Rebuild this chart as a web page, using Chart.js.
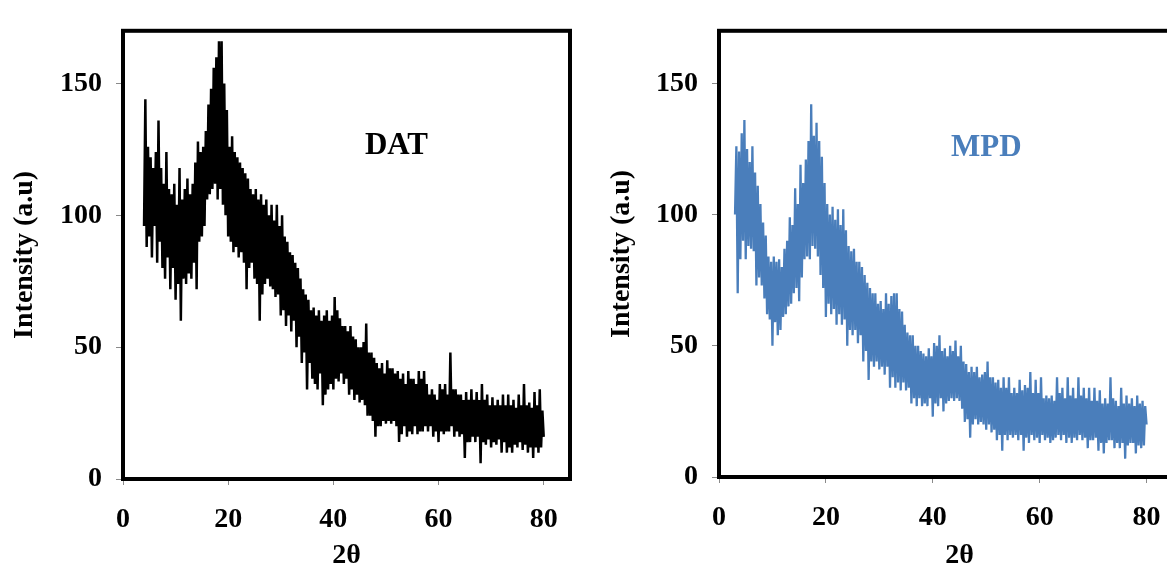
<!DOCTYPE html>
<html>
<head>
<meta charset="utf-8">
<script src="https://cdn.jsdelivr.net/npm/chart.js@4.4.1/dist/chart.umd.min.js"></script>
<style>
  body { margin: 0; background: #fff; }
  #wrap { position: relative; width: 1167px; height: 570px; overflow: hidden; background: #fff; }
  canvas { position: absolute; top: 0; }
</style>
</head>
<body>
<div id="wrap">
  <canvas id="chartDat" width="590" height="570" style="left:0"></canvas>
  <canvas id="chartMpd" width="620" height="570" style="left:590px"></canvas>
</div>
<script>
// 2theta sampling (deg)
const twoThetaStep = 0.25;
const datStart = 4;
const mpdStart = 3;

const xTicks = [0, 20, 40, 60, 80];
const yTicks = [0, 50, 100, 150];

// DAT intensity (4 -> 80 deg)
const datIntensity = [
  96,144,88,126,  92,122,84,118,  96,124,82,136,  90,118,80,112,  76,124,84,110,
  72,108,80,112,  68,104,74,118,  60,106,76,110,  74,114,78,108,  76,112,82,120,
  72,128,90,124,  92,126,96,132,  106,142,108,148, 110,156,112,160, 106,166,110,166,
  104,150,100,140, 92,126,90,130,  86,124,88,122,  84,120,86,118,  82,116,72,114,
  80,110,82,108,  76,110,74,106,  60,108,70,104,  74,106,76,100,  73,104,72,98,
  69,104,70,96,   62,100,64,92,   58,90,62,86,    56,85,60,82,    50,80,54,76,
  44,72,48,70,    34,68,44,64,    38,65,36,62,    34,64,40,60,    28,62,32,64,
  34,60,36,62,    34,69,38,64,    37,61,40,58,    36,58,38,56,    32,58,34,54,
  30,53,32,50,    29,50,30,52,    28,59,24,48,    24,48,22,46,    16,44,20,42,
  20,44,22,40,    21,45,22,42,    21,42,22,40,    20,41,14,38,    17,40,20,36,
  16,41,18,38,    17,38,20,36,    17,41,18,38,    18,41,20,36,    18,32,20,34,
  16,32,18,30,    14,36,18,34,    17,36,18,32,    18,48,20,34,    16,34,18,32,
  16,32,17,30,    8,33,14,30,     14,34,16,30,    14,33,16,30,    6,36,14,30,
  13,32,15,28,    12,31,14,28,    13,30,15,28,    10,32,14,28,    10,32,12,28,
  10,30,13,27,    12,32,14,28,    11,36,13,28,    10,29,12,27,    8,33,12,28,
  10,34,12,26,    16
];

// MPD intensity (3 -> 80 deg)
const mpdIntensity = [
  100,126,70,124, 83,131,90,136,  83,125,88,120,  87,126,86,116,  73,111,76,104,
  73,97,68,92,    62,84,60,82,    50,84,59,82,    54,83,56,80,    61,87,62,90,
  65,99,66,96,    70,110,72,104,  67,119,76,112,  83,121,84,128,  83,142,88,130,
  87,135,84,128,  77,122,72,112,  61,104,66,100,  62,103,64,98,   58,102,62,96,
  58,102,60,94,   50,88,56,86,    54,87,56,82,    51,82,54,80,    44,77,48,74,
  37,72,44,70,    42,70,44,66,    41,67,42,64,    39,70,42,66,    34,69,38,70,
  34,70,36,64,    33,63,36,58,    33,55,34,54,    28,54,30,50,    27,50,30,48,
  27,47,28,46,    27,49,30,46,    23,51,28,50,    27,54,30,48,    25,49,28,46,
  29,50,30,48,    29,52,30,46,    29,50,26,44,    21,43,22,40,    15,42,20,40,
  22,42,20,38,    21,39,20,40,    18,44,20,38,    17,38,18,36,    14,37,16,34,
  10,38,16,34,    14,38,16,32,    15,34,16,32,    14,37,16,33,    10,35,15,34,
  13,40,16,32,    14,37,15,32,    13,38,16,30,    14,31,15,30,    13,31,14,29,
  15,38,16,32,    14,34,16,30,    13,38,15,31,    13,34,15,30,    14,38,16,31,
  14,34,15,30,    11,34,14,29,    14,34,15,29,    10,33,13,28,    9,30,13,28,
  14,38,14,30,    11,29,13,27,    11,34,13,28,    7,31,12,28,     13,30,13,27,
  9,31,12,28,     11,29,12,27,    20
];

const serif = "'Liberation Serif', 'Times New Roman', serif";

// marco del area de trazado + etiqueta de la muestra
const framePlugin = {
  id: 'frame',
  afterDatasetsDraw(chart, args, opts) {
    const { ctx, chartArea: a, scales } = chart;
    ctx.save();
    ctx.lineWidth = opts.width;
    ctx.strokeStyle = '#000';
    ctx.strokeRect(a.left, a.top, a.right - a.left, a.bottom - a.top);
    ctx.font = 'bold 31px ' + serif;
    ctx.fillStyle = opts.color;
    ctx.textAlign = 'center';
    ctx.textBaseline = 'middle';
    ctx.fillText(opts.label, scales.x.getPixelForValue(opts.at[0]), scales.y.getPixelForValue(opts.at[1]));
    ctx.restore();
  }
};

function toPoints(start, values) {
  return values.map((v, i) => ({ x: start + i * twoThetaStep, y: v }));
}

function makeChart(id, start, values, color, p) {
  return new Chart(document.getElementById(id), {
    type: 'line',
    data: {
      datasets: [{
        data: toPoints(start, values),
        borderColor: color,
        borderWidth: p.lineWidth,
        borderJoinStyle: 'bevel',
        pointRadius: 0,
        tension: 0,
        fill: false
      }]
    },
    options: {
      responsive: false,
      animation: false,
      events: [],
      layout: { padding: { top: p.top, right: p.right, left: 0, bottom: 0 } },
      plugins: {
        legend: { display: false },
        tooltip: { enabled: false },
        frame: { width: 4, label: p.label, color: color, at: p.labelAt }
      },
      scales: {
        x: {
          type: 'linear',
          min: 0,
          max: p.xMax,
          afterFit: s => { s.height = p.xHeight; },
          afterBuildTicks: s => { s.ticks = xTicks.map(v => ({ value: v })); },
          grid: { drawOnChartArea: false, drawTicks: true, tickLength: 6, tickColor: '#8a8a8a' },
          border: { display: false },
          ticks: { padding: 18, color: '#000', font: { family: serif, size: 28, weight: 'bold' } },
          title: { display: true, text: '2θ', color: '#000', padding: { top: 0, bottom: 0 },
                   font: { family: serif, size: 28, weight: 'bold', lineHeight: 1 } }
        },
        y: {
          min: 0,
          max: 170,
          afterFit: s => { s.width = p.yWidth; },
          afterBuildTicks: s => { s.ticks = yTicks.map(v => ({ value: v })); },
          grid: { drawOnChartArea: false, drawTicks: true, tickLength: 7, tickColor: '#8a8a8a' },
          border: { display: false },
          ticks: { padding: 14, color: '#000', font: { family: serif, size: 28, weight: 'bold' } },
          title: { display: true, text: 'Intensity (a.u)', color: '#000', padding: { top: p.yTitlePad, bottom: 0 },
                   font: { family: serif, size: 28, weight: 'bold', lineHeight: 1.1 } }
        }
      }
    },
    plugins: [framePlugin]
  });
}

makeChart('chartDat', datStart, datIntensity, '#000000',
  { top: 16, right: 20, xMax: 85, xHeight: 91, yWidth: 123, yTitlePad: 9, lineWidth: 2.5,
    label: 'DAT', labelAt: [52, 126.5] });
makeChart('chartMpd', mpdStart, mpdIntensity, '#4a7ebb',
  { top: 18, right: 10, xMax: 90, xHeight: 93, yWidth: 129, yTitlePad: 16, lineWidth: 2.3,
    label: 'MPD', labelAt: [50, 125.5] });
</script>
</body>
</html>
